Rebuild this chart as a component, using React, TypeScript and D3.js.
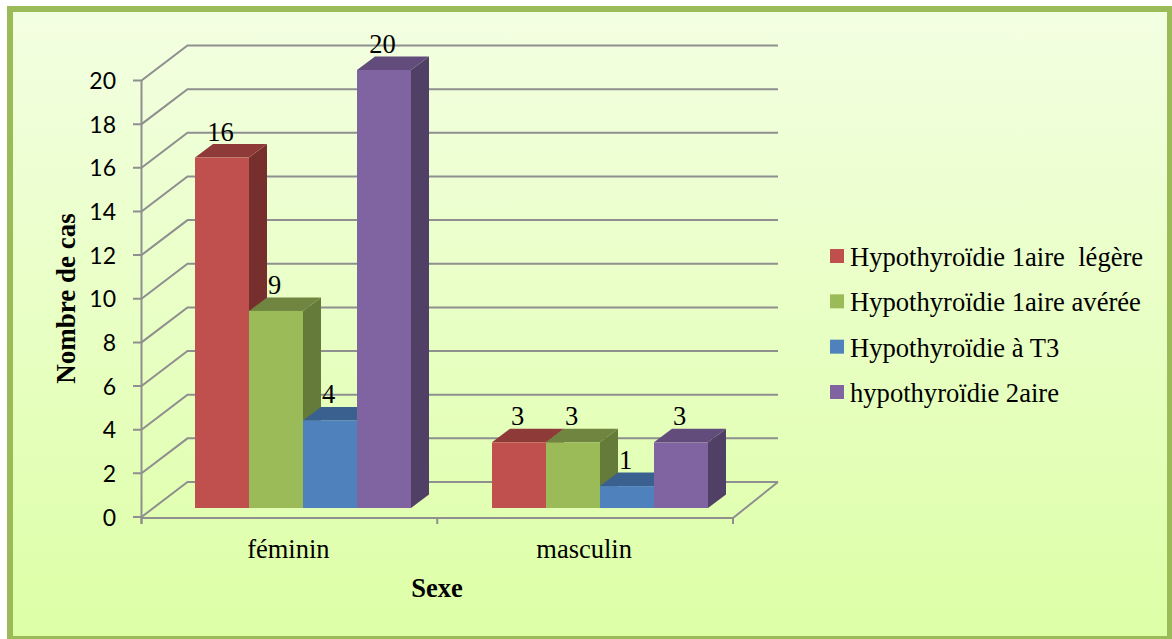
import React from "react";
import * as d3 from "d3";

const categories = ["féminin", "masculin"];
const seriesNames = ["Hypothyroïdie 1aire  légère", "Hypothyroïdie 1aire avérée", "Hypothyroïdie à T3", "hypothyroïdie 2aire"];
const feminin = [16, 9, 4, 20];
const masculin = [3, 3, 1, 3];
const valuesByCategory = [feminin, masculin];
const yTicks = [0, 2, 4, 6, 8, 10, 12, 14, 16, 18, 20];
const frontColors = ["#C0504D", "#9BBB59", "#4F81BD", "#8064A2"];
const topColors = ["#8E3A38", "#6F8540", "#3A608F", "#624C7C"];
const sideColors = ["#772F2D", "#657B39", "#2F4E73", "#514066"];

const serif = "'Liberation Serif', serif";
const W = 1172, H = 639;
const depthX = 46, depthY = 35;
const barDepthX = 18, barDepthY = 13.5;
const axisX = 141.5, axisEnd = 733;

const yAxis = d3.scaleLinear().domain([0, 20]).range([517, 80.5]);
const yBar = d3.scaleLinear().domain([0, 20]).range([508, 70]);
const xCat = d3.scaleBand().domain(categories).range([154.5, 748.5]);
const xAxisCat = d3.scaleBand().domain(categories).range([axisX, axisEnd]);
const xSeries = d3.scaleBand().domain(seriesNames).range([-108, 108]);
const legendY = d3.scalePoint().domain(seriesNames).range([256, 392]);

const pts = (p: number[][]) => p.map((q) => q.join(",")).join(" ");
const gray = "#8F8F8F";

export default function App() {
  return (
    <svg width={W} height={H} style={{ position: "absolute", left: 0, top: 0 }}>
      <defs>
        <linearGradient id="bg" x1="0" y1="0" x2="0" y2="1">
          <stop offset="0" stopColor="#F3FFE2" />
          <stop offset="1" stopColor="#DDFFA6" />
        </linearGradient>
      </defs>
      <rect width={W} height={H} fill="#fff" />
      <rect x={10} y={9} width={1160} height={630} fill="url(#bg)" stroke="#9BBB59" strokeWidth={6} />

      {/* walls */}
      {yTicks.map((t) => (
        <polyline key={t} fill="none" stroke={gray} strokeWidth={2}
          points={pts([[133, yAxis(t)], [axisX, yAxis(t)], [axisX + depthX, yAxis(t) - depthY], [778, yAxis(t) - depthY]])} />
      ))}
      <line x1={axisX} x2={axisX} y1={yAxis(20)} y2={524} stroke={gray} strokeWidth={2} />
      <polyline fill="none" stroke={gray} strokeWidth={2}
        points={pts([[axisX, yAxis(0) + 1], [axisEnd, yAxis(0) + 1], [778, yAxis(0) - depthY]])} />
      {[axisX, axisX + xAxisCat.step(), axisEnd].map((x) => (
        <line key={x} x1={x} x2={x} y1={yAxis(0)} y2={524} stroke={gray} strokeWidth={2} />
      ))}

      {yTicks.map((t) => (
        <text key={t} x={116} y={yAxis(t) + 8.5} textAnchor="end" fontFamily="Lato, sans-serif" fontSize={23}>{t}</text>
      ))}

      {/* bars */}
      {categories.map((c, ci) =>
        seriesNames.map((s, si) => {
          const v = valuesByCategory[ci][si];
          const x0 = xCat(c)! + xCat.bandwidth() / 2 + xSeries(s)!;
          const x1 = x0 + xSeries.bandwidth();
          const yT = yBar(v), yB = yBar(0);
          return (
            <g key={s}>
              <polygon fill={sideColors[si]} points={pts([[x1, yT], [x1 + barDepthX, yT - barDepthY], [x1 + barDepthX, yB - barDepthY], [x1, yB]])} />
              <polygon fill={topColors[si]} points={pts([[x0, yT], [x0 + barDepthX, yT - barDepthY], [x1 + barDepthX, yT - barDepthY], [x1, yT]])} />
              <rect x={x0} y={yT} width={x1 - x0} height={yB - yT} fill={frontColors[si]} />
            </g>
          );
        })
      )}

      {/* value labels */}
      {categories.map((c, ci) =>
        seriesNames.map((s, si) => {
          const v = valuesByCategory[ci][si];
          const cx = xCat(c)! + xCat.bandwidth() / 2 + xSeries(s)! + xSeries.bandwidth() / 2;
          return (
            <text key={s} x={cx - 1.5} y={yBar(v) - 17} textAnchor="middle" fontFamily={serif} fontSize={26.5}>{v}</text>
          );
        })
      )}

      {categories.map((c) => (
        <text key={c} x={xAxisCat(c)! + xAxisCat.bandwidth() / 2 - 1} y={558} textAnchor="middle" fontFamily={serif} fontSize={26.5}>{c}</text>
      ))}
      <text x={437} y={597} textAnchor="middle" fontFamily={serif} fontSize={26.5} fontWeight="bold">Sexe</text>
      <text transform="translate(75,298.5) rotate(-90)" textAnchor="middle" fontFamily={serif} fontSize={27} fontWeight="bold">Nombre de cas</text>

      {seriesNames.map((s, si) => (
        <g key={s}>
          <rect x={830} y={legendY(s)! - 7} width={14} height={14} fill={frontColors[si]} />
          <text x={850} y={legendY(s)! + 10} fontFamily={serif} fontSize={26.6} style={{ whiteSpace: "pre" }}>{s}</text>
        </g>
      ))}
    </svg>
  );
}
